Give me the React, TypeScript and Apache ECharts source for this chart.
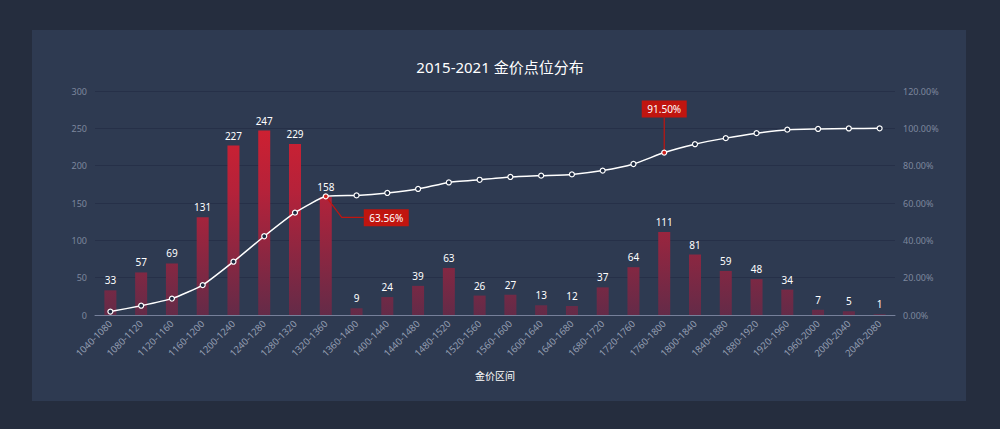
import React, { useEffect, useRef } from "react";
import * as echarts from "echarts";

const categories = [
  "1040-1080", "1080-1120", "1120-1160", "1160-1200", "1200-1240", "1240-1280",
  "1280-1320", "1320-1360", "1360-1400", "1400-1440", "1440-1480", "1480-1520",
  "1520-1560", "1560-1600", "1600-1640", "1640-1680", "1680-1720", "1720-1760",
  "1760-1800", "1800-1840", "1840-1880", "1880-1920", "1920-1960", "1960-2000",
  "2000-2040", "2040-2080",
];
const counts = [33, 57, 69, 131, 227, 247, 229, 158, 9, 24, 39, 63, 26, 27, 13, 12, 37, 64, 111, 81, 59, 48, 34, 7, 5, 1];
const cumulativePct = [
  1.82, 4.97, 8.78, 16.01, 28.55, 42.19, 54.83, 63.56, 64.05, 65.38, 67.53, 71.01, 72.45,
  73.94, 74.66, 75.32, 77.36, 80.89, 87.02, 91.5, 94.75, 97.4, 99.28, 99.67, 99.94, 100.0,
];
const calloutIndexes = [7, 18];
const calloutTexts = ["63.56%", "91.50%"];

const title = "2015-2021 金价点位分布";
const xName = "金价区间";

const FONT = "'Noto Sans', 'Noto Sans CJK SC', sans-serif";
const RED = "#c0150f";

export default function App() {
  const ref = useRef<HTMLDivElement>(null);
  useEffect(() => {
    if (!ref.current) return;
    const chart = echarts.init(ref.current, null, { renderer: "svg" });
    const gridTop = 91;
    const gridBottom = 114;
    const lineData = cumulativePct.map((v, i) =>
      calloutIndexes.includes(i)
        ? { value: v, itemStyle: { color: "#d0201c", borderColor: "#ffffff" } }
        : v
    );
    chart.setOption({
      animation: false,
      backgroundColor: "transparent",
      textStyle: { fontFamily: FONT },
      title: {
        text: title,
        left: "center",
        top: 54,
        textStyle: { color: "#ffffff", fontSize: 15, fontWeight: "normal", fontFamily: FONT },
      },
      grid: { left: 95, right: 105, top: gridTop, bottom: gridBottom, containLabel: false },
      xAxis: {
        type: "category",
        data: categories,
        name: xName,
        nameLocation: "middle",
        nameGap: 56,
        nameTextStyle: { color: "#ffffff", fontSize: 10 },
        axisLine: { lineStyle: { color: "#76809a", width: 1 } },
        axisTick: { show: false },
        axisLabel: { interval: 0, rotate: 45, color: "#949eb2", fontSize: 9.5, margin: 7 },
      },
      yAxis: [
        {
          type: "value",
          min: 0,
          max: 300,
          interval: 50,
          axisLine: { show: false },
          axisTick: { show: false },
          axisLabel: { color: "#7d879d", fontSize: 9, margin: 8 },
          splitLine: { lineStyle: { color: "#263048", width: 1 } },
        },
        {
          type: "value",
          min: 0,
          max: 120,
          interval: 20,
          axisLine: { show: false },
          axisTick: { show: false },
          axisLabel: {
            color: "#7d879d",
            fontSize: 9,
            margin: 8,
            formatter: (v: number) => v.toFixed(2) + "%",
          },
          splitLine: { show: false },
        },
      ],
      series: [
        {
          type: "bar",
          data: counts,
          barWidth: 12,
          itemStyle: {
            color: new echarts.graphic.LinearGradient(
              0, gridTop, 0, 429 - gridBottom,
              [
                { offset: 0, color: "#dc1f2c" },
                { offset: 0.45, color: "#b5223a" },
                { offset: 1, color: "#642b48" },
              ],
              true
            ),
          },
          label: { show: true, position: "top", color: "#ffffff", fontSize: 10, distance: 5 },
          z: 2,
        },
        {
          type: "line",
          yAxisIndex: 1,
          data: lineData,
          smooth: 0.15,
          symbol: "circle",
          symbolSize: 5,
          lineStyle: { color: "#ffffff", width: 1.5 },
          itemStyle: { color: "#1d2940", borderColor: "#ffffff", borderWidth: 1.2 },
          z: 5,
        },
      ],
    });

    const graphics: any[] = [];
    calloutIndexes.forEach((idx, k) => {
      const p = chart.convertToPixel({ xAxisIndex: 0, yAxisIndex: 1 } as any, [idx, cumulativePct[idx]]) as number[];
      const w = 45;
      const h = 17;
      if (k === 0) {
        graphics.push({
          type: "polyline",
          z: 4,
          shape: { points: [[p[0], p[1]], [p[0] + 16, p[1] + 21], [p[0] + 38, p[1] + 21]] },
          style: { stroke: RED, lineWidth: 1.2, fill: "none" },
        });
        graphics.push({
          type: "rect",
          z: 4,
          shape: { x: p[0] + 38, y: p[1] + 13, width: w, height: h },
          style: { fill: RED },
        });
        graphics.push({
          type: "text",
          z: 4,
          x: p[0] + 38 + w / 2,
          y: p[1] + 13 + h / 2,
          style: { text: calloutTexts[k], fill: "#ffffff", fontSize: 10, fontFamily: FONT, align: "center", verticalAlign: "middle" },
        });
      } else {
        graphics.push({
          type: "line",
          z: 4,
          shape: { x1: p[0], y1: p[1] - 35, x2: p[0], y2: p[1] },
          style: { stroke: RED, lineWidth: 1.2 },
        });
        graphics.push({
          type: "rect",
          z: 4,
          shape: { x: p[0] - w / 2, y: p[1] - 52, width: w, height: h },
          style: { fill: RED },
        });
        graphics.push({
          type: "text",
          z: 4,
          x: p[0],
          y: p[1] - 52 + h / 2,
          style: { text: calloutTexts[k], fill: "#ffffff", fontSize: 10, fontFamily: FONT, align: "center", verticalAlign: "middle" },
        });
      }
    });
    chart.setOption({ graphic: graphics });

    return () => chart.dispose();
  }, []);

  return (
    <div style={{ position: "fixed", left: 0, top: 0, width: 1000, height: 429, background: "#252d3e", overflow: "hidden" }}>
      <div style={{ position: "absolute", left: 32, top: 30, width: 934, height: 371, background: "#2e3a51" }} />
      <div ref={ref} style={{ position: "absolute", left: 0, top: 0, width: 1000, height: 429 }} />
    </div>
  );
}
